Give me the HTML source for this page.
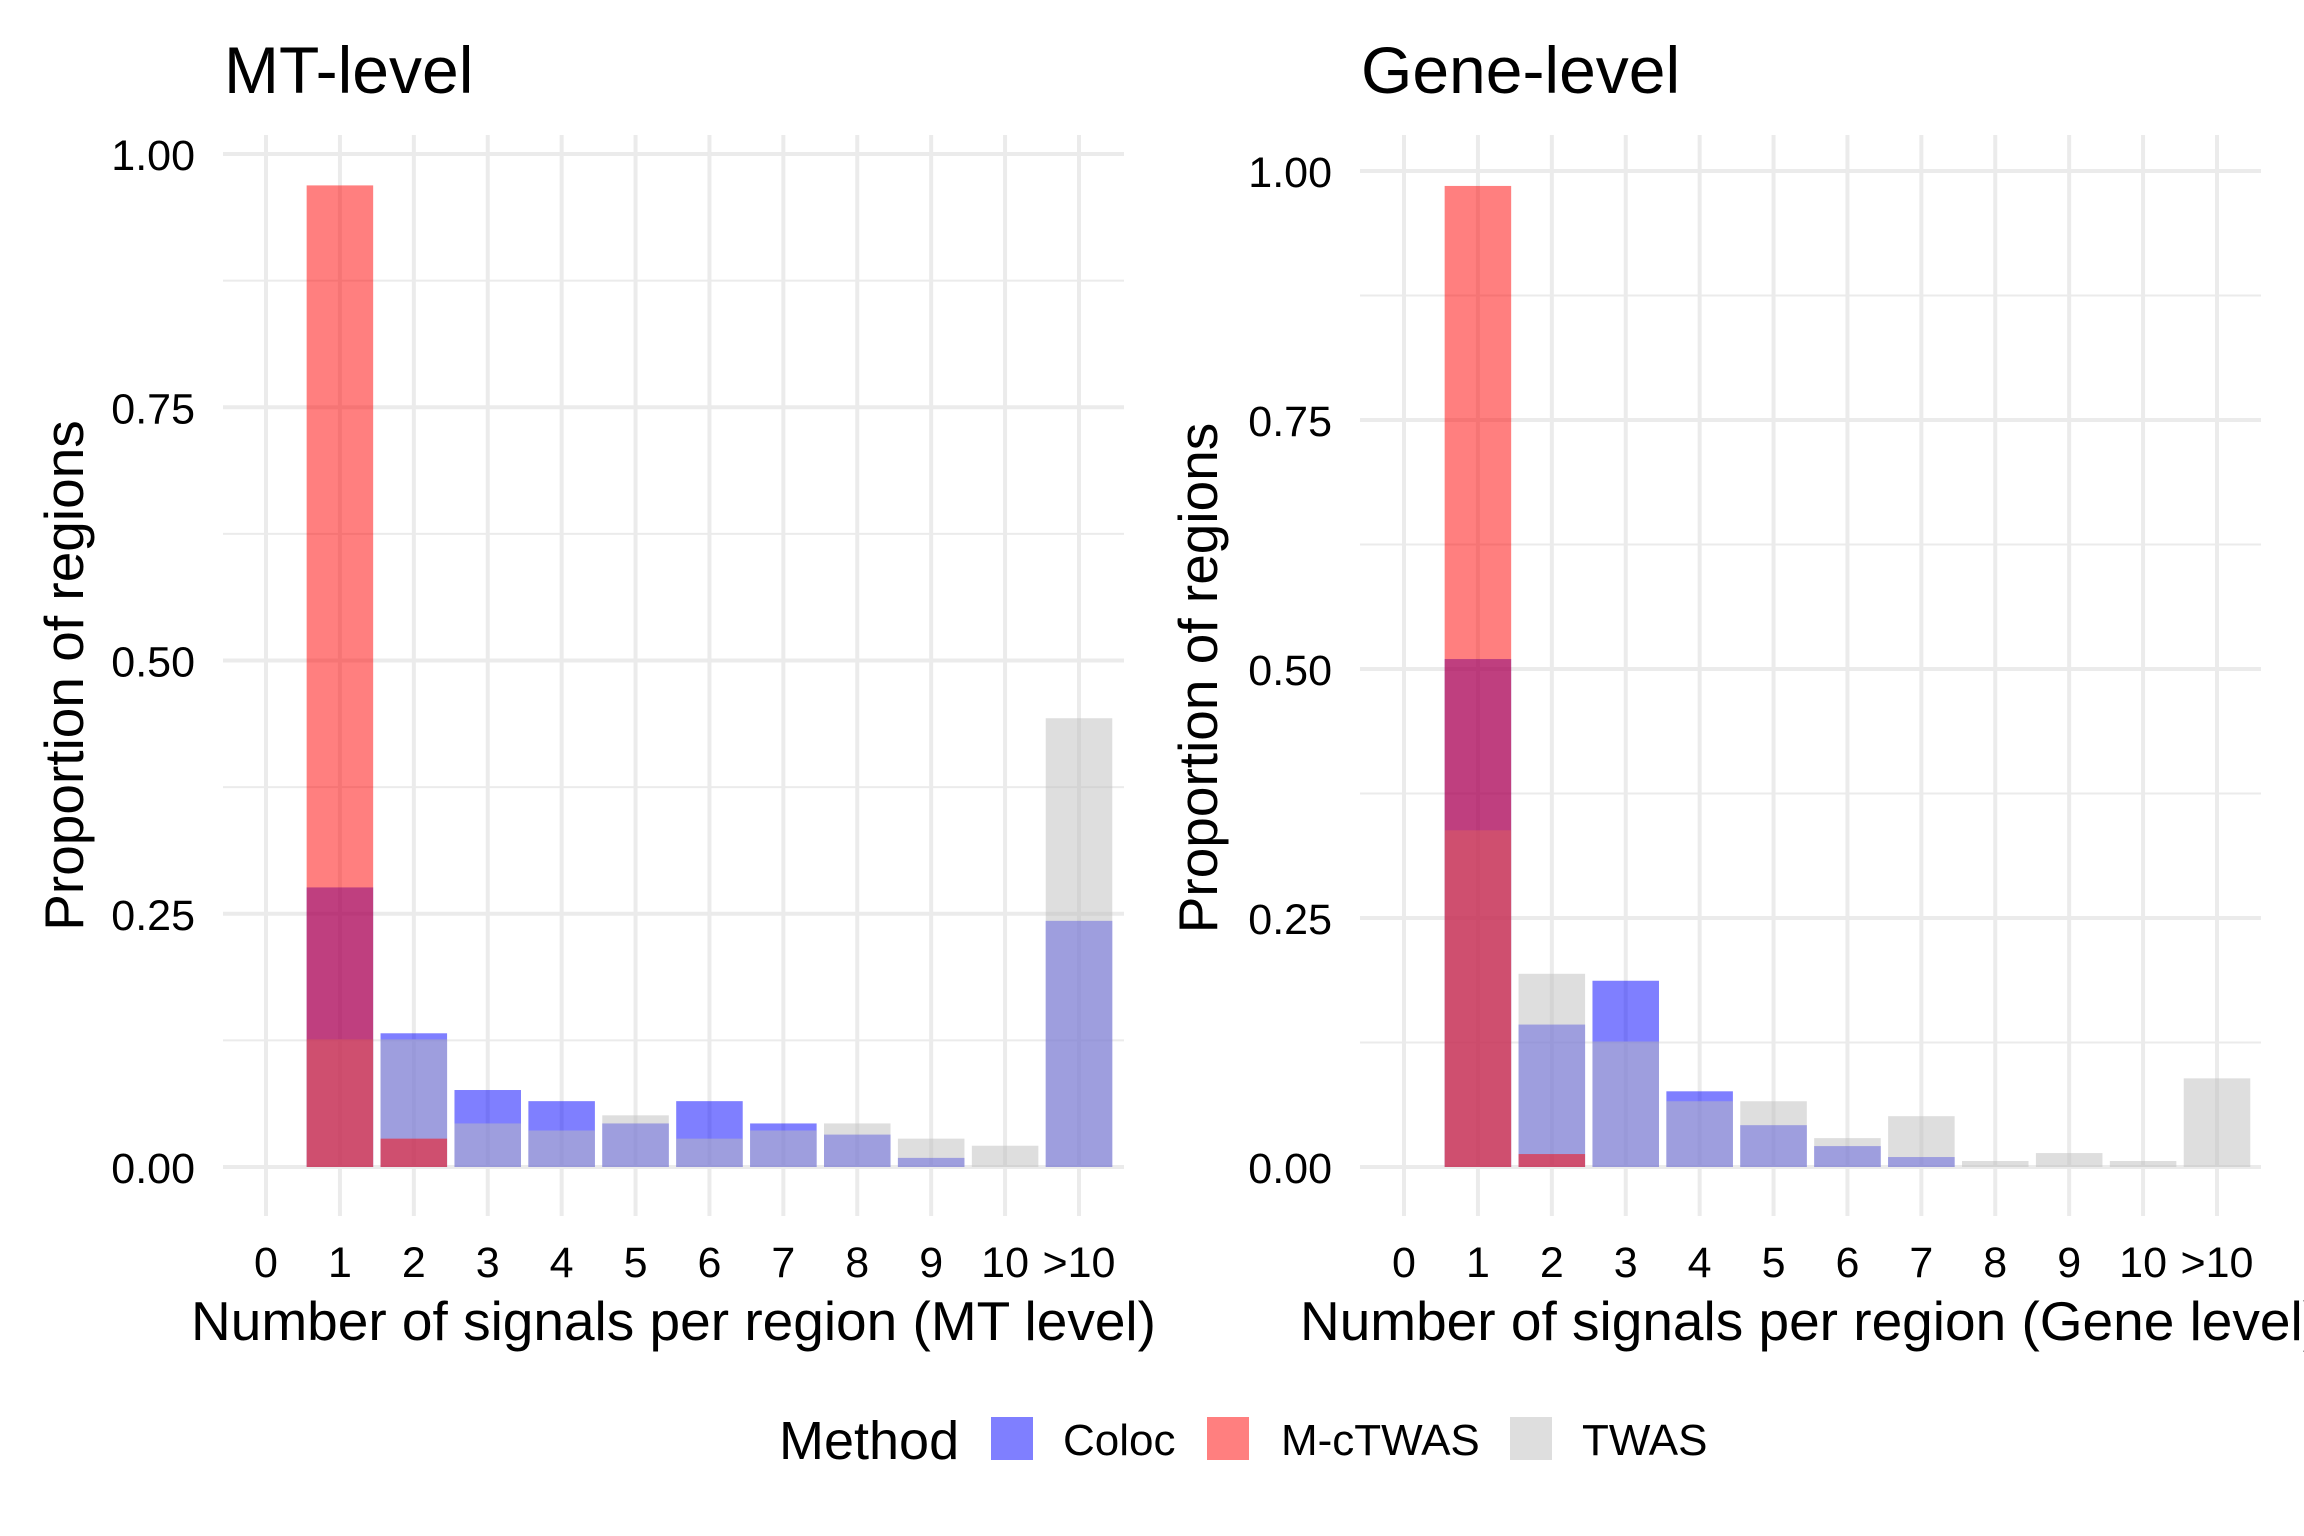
<!DOCTYPE html>
<html><head><meta charset="utf-8"><style>
html,body{margin:0;padding:0;background:#fff;}
svg{display:block;font-family:"Liberation Sans",Arial,sans-serif;}
</style></head><body>
<svg id="chart" width="2304" height="1536" viewBox="0 0 2304 1536" xmlns="http://www.w3.org/2000/svg">
<rect width="2304" height="1536" fill="#fff"/>
<g id="legend">
<text x="779" y="1459" font-size="54">Method</text>
<rect x="991" y="1417" width="42" height="43" fill="#0000FF" fill-opacity="0.5"/>
<text x="1063" y="1455" font-size="44">Coloc</text>
<rect x="1207" y="1417" width="42" height="43" fill="#FF0000" fill-opacity="0.5"/>
<text x="1281" y="1455" font-size="44">M-cTWAS</text>
<rect x="1510" y="1417" width="42" height="43" fill="#BEBEBE" fill-opacity="0.5"/>
<text x="1582" y="1455" font-size="44">TWAS</text>
</g>
</svg>
<script>
const categories = ["0","1","2","3","4","5","6","7","8","9","10",">10"];
const yTicks = [0, 0.25, 0.5, 0.75, 1.0];
const yTickLabels = ["0.00","0.25","0.50","0.75","1.00"];
const mtColoc  = [0, 0.276, 0.132, 0.076, 0.065, 0.043, 0.065, 0.043, 0.032, 0.009, 0, 0.243];
const mtTwas   = [0, 0.126, 0.126, 0.043, 0.036, 0.051, 0.028, 0.036, 0.043, 0.028, 0.021, 0.443];
const mtMctwas = [0, 0.969, 0.028, 0, 0, 0, 0, 0, 0, 0, 0, 0];
const geneColoc  = [0, 0.510, 0.143, 0.187, 0.076, 0.042, 0.021, 0.010, 0, 0, 0, 0];
const geneTwas   = [0, 0.338, 0.194, 0.126, 0.066, 0.066, 0.029, 0.051, 0.006, 0.014, 0.006, 0.089];
const geneMctwas = [0, 0.985, 0.013, 0, 0, 0, 0, 0, 0, 0, 0, 0];

const NS = "http://www.w3.org/2000/svg";
const svg = document.getElementById("chart");
function mk(tag, attrs, parent){const e=document.createElementNS(NS,tag);for(const k in attrs)e.setAttribute(k,attrs[k]);(parent||svg).appendChild(e);return e;}

function panel(cfg){
  const g = mk("g",{});
  
  
  const xScale = i => cfg.x0 + i*(cfg.x11-cfg.x0)/11;
  const yScale = v => cfg.y0 + v*(cfg.y1-cfg.y0);
  const step = (cfg.x11-cfg.x0)/11;
  for(let i=0;i<yTicks.length-1;i++){
    const v=(yTicks[i]+yTicks[i+1])/2;
    const l=mk("line",{x1:cfg.gx0,x2:cfg.gx1,y1:yScale(v),y2:yScale(v),stroke:"#EBEBEB","stroke-width":2},g);
    
    
  }
  yTicks.forEach((v,i)=>{
    const l=mk("line",{x1:cfg.gx0,x2:cfg.gx1,y1:yScale(v),y2:yScale(v),stroke:"#EBEBEB","stroke-width":4},g);
    
    
    const t=mk("text",{x:cfg.labX,y:yScale(v)+16,"font-size":43,"text-anchor":"end",fill:"#000"},g);
    t.textContent=yTickLabels[i];
    
    
  });
  categories.forEach((c,i)=>{
    const l=mk("line",{x1:xScale(i),x2:xScale(i),y1:135,y2:1216,stroke:"#EBEBEB","stroke-width":4},g);
    
    
    const t=mk("text",{x:xScale(i),y:1277,"font-size":43,"text-anchor":"middle",fill:"#000"},g);
    t.textContent=c;
    
    
  });
  const series=[[cfg.coloc,"#0000FF","coloc"],[cfg.twas,"#BEBEBE","twas"],[cfg.mctwas,"#FF0000","mctwas"]];
  series.forEach(([vals,col,nm])=>{
    vals.forEach((v,i)=>{
      if(v<=0) return;
      const bw=step*0.9;
      const r=mk("rect",{x:xScale(i)-bw/2,y:yScale(v),width:bw,height:yScale(0)-yScale(v),fill:col,"fill-opacity":0.5},g);
      
      
    });
  });
  const title=mk("text",{x:cfg.titleX,y:93,"font-size":66,fill:"#000"},g);
  title.textContent=cfg.title;
  
  
  const xt=mk("text",{x:(cfg.gx0+cfg.gx1)/2,y:1340,"font-size":55,"text-anchor":"middle",fill:"#000"},g);
  xt.textContent=cfg.xTitle;
  
  
  const cy=(yScale(0)+yScale(1))/2+cfg.ytDy;
  const yt=mk("text",{x:cfg.ytX,y:cy,"font-size":55,"text-anchor":"middle",fill:"#000",transform:"rotate(-90 "+cfg.ytX+" "+cy+")"},g);
  yt.textContent="Proportion of regions";
  
  
}
panel({name:"mt-level-panel",title:"MT-level",xTitle:"Number of signals per region (MT level)",x0:266,x11:1079,gx0:223,gx1:1124,y0:1167,y1:154,labX:195,titleX:224,ytX:83,ytDy:15,coloc:mtColoc,twas:mtTwas,mctwas:mtMctwas});
panel({name:"gene-level-panel",title:"Gene-level",xTitle:"Number of signals per region (Gene level)",x0:1404,x11:2217,gx0:1360,gx1:2261,y0:1167,y1:171,labX:1332,titleX:1361,ytX:1217,ytDy:9,coloc:geneColoc,twas:geneTwas,mctwas:geneMctwas});
</script>
</body></html>
